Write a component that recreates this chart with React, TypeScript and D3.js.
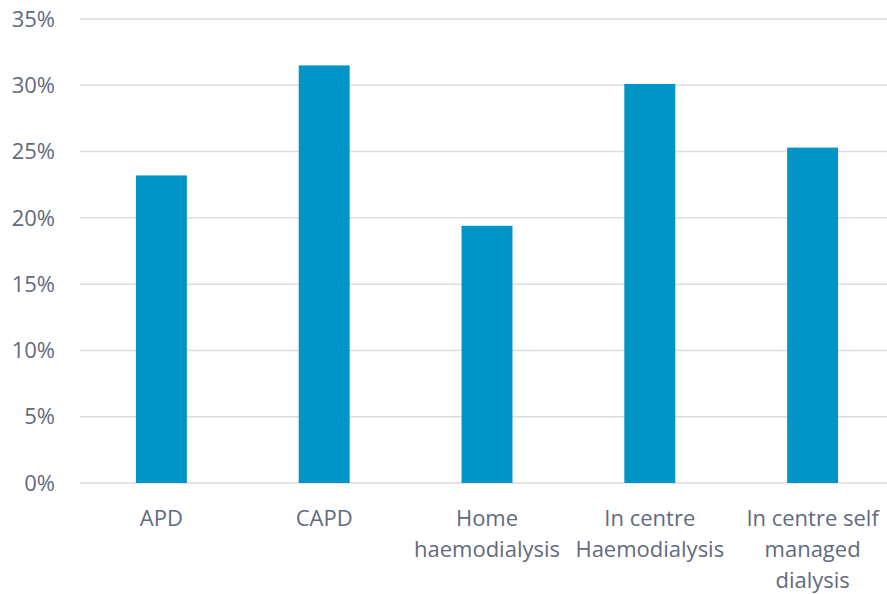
import { useMemo } from 'react';
import * as d3 from 'd3';

const categories = [
  ['APD'],
  ['CAPD'],
  ['Home', 'haemodialysis'],
  ['In centre', 'Haemodialysis'],
  ['In centre self', 'managed', 'dialysis'],
];
const values = [0.232, 0.315, 0.194, 0.301, 0.253];
const yTicks = [0, 0.05, 0.1, 0.15, 0.2, 0.25, 0.3, 0.35];

const W = 887;
const H = 594;
const FONT = '"Open Sans", Lato, sans-serif';
const TEXT = '#5F6B80';

export default function App(): React.ReactNode {
  const x = useMemo(
    () =>
      d3
        .scaleBand<number>()
        .domain(d3.range(values.length))
        .range([80, 894])
        .paddingInner(0.687)
        .paddingOuter(0.3435),
    []
  );
  const y = useMemo(() => d3.scaleLinear().domain([0, 0.35]).range([483, 19]), []);
  const fmt = d3.format('.0%');

  return (
    <svg
      width={W}
      height={H}
      style={{ position: 'absolute', left: 0, top: 0, background: '#fff' }}
      fontFamily={FONT}
    >
      {yTicks.map((t) => (
        <g key={t}>
          <line x1={80} x2={W} y1={y(t)} y2={y(t)} stroke="#DCDCE2" strokeWidth={1.5} />
          <text x={55} y={y(t)} dy="0.35em" textAnchor="end" fontSize={22} fill={TEXT}>
            {fmt(t)}
          </text>
        </g>
      ))}
      {values.map((v, i) => (
        <rect
          key={i}
          x={x(i)}
          y={y(v)}
          width={x.bandwidth()}
          height={y(0) - y(v)}
          fill="#0095C6"
        />
      ))}
      {categories.map((lines, i) => (
        <text
          key={i}
          x={(x(i) ?? 0) + x.bandwidth() / 2}
          y={526}
          textAnchor="middle"
          fontSize={22}
          fill={TEXT}
        >
          {lines.map((l, j) => (
            <tspan key={j} x={(x(i) ?? 0) + x.bandwidth() / 2} dy={j === 0 ? 0 : 31}>
              {l}
            </tspan>
          ))}
        </text>
      ))}
    </svg>
  );
}
